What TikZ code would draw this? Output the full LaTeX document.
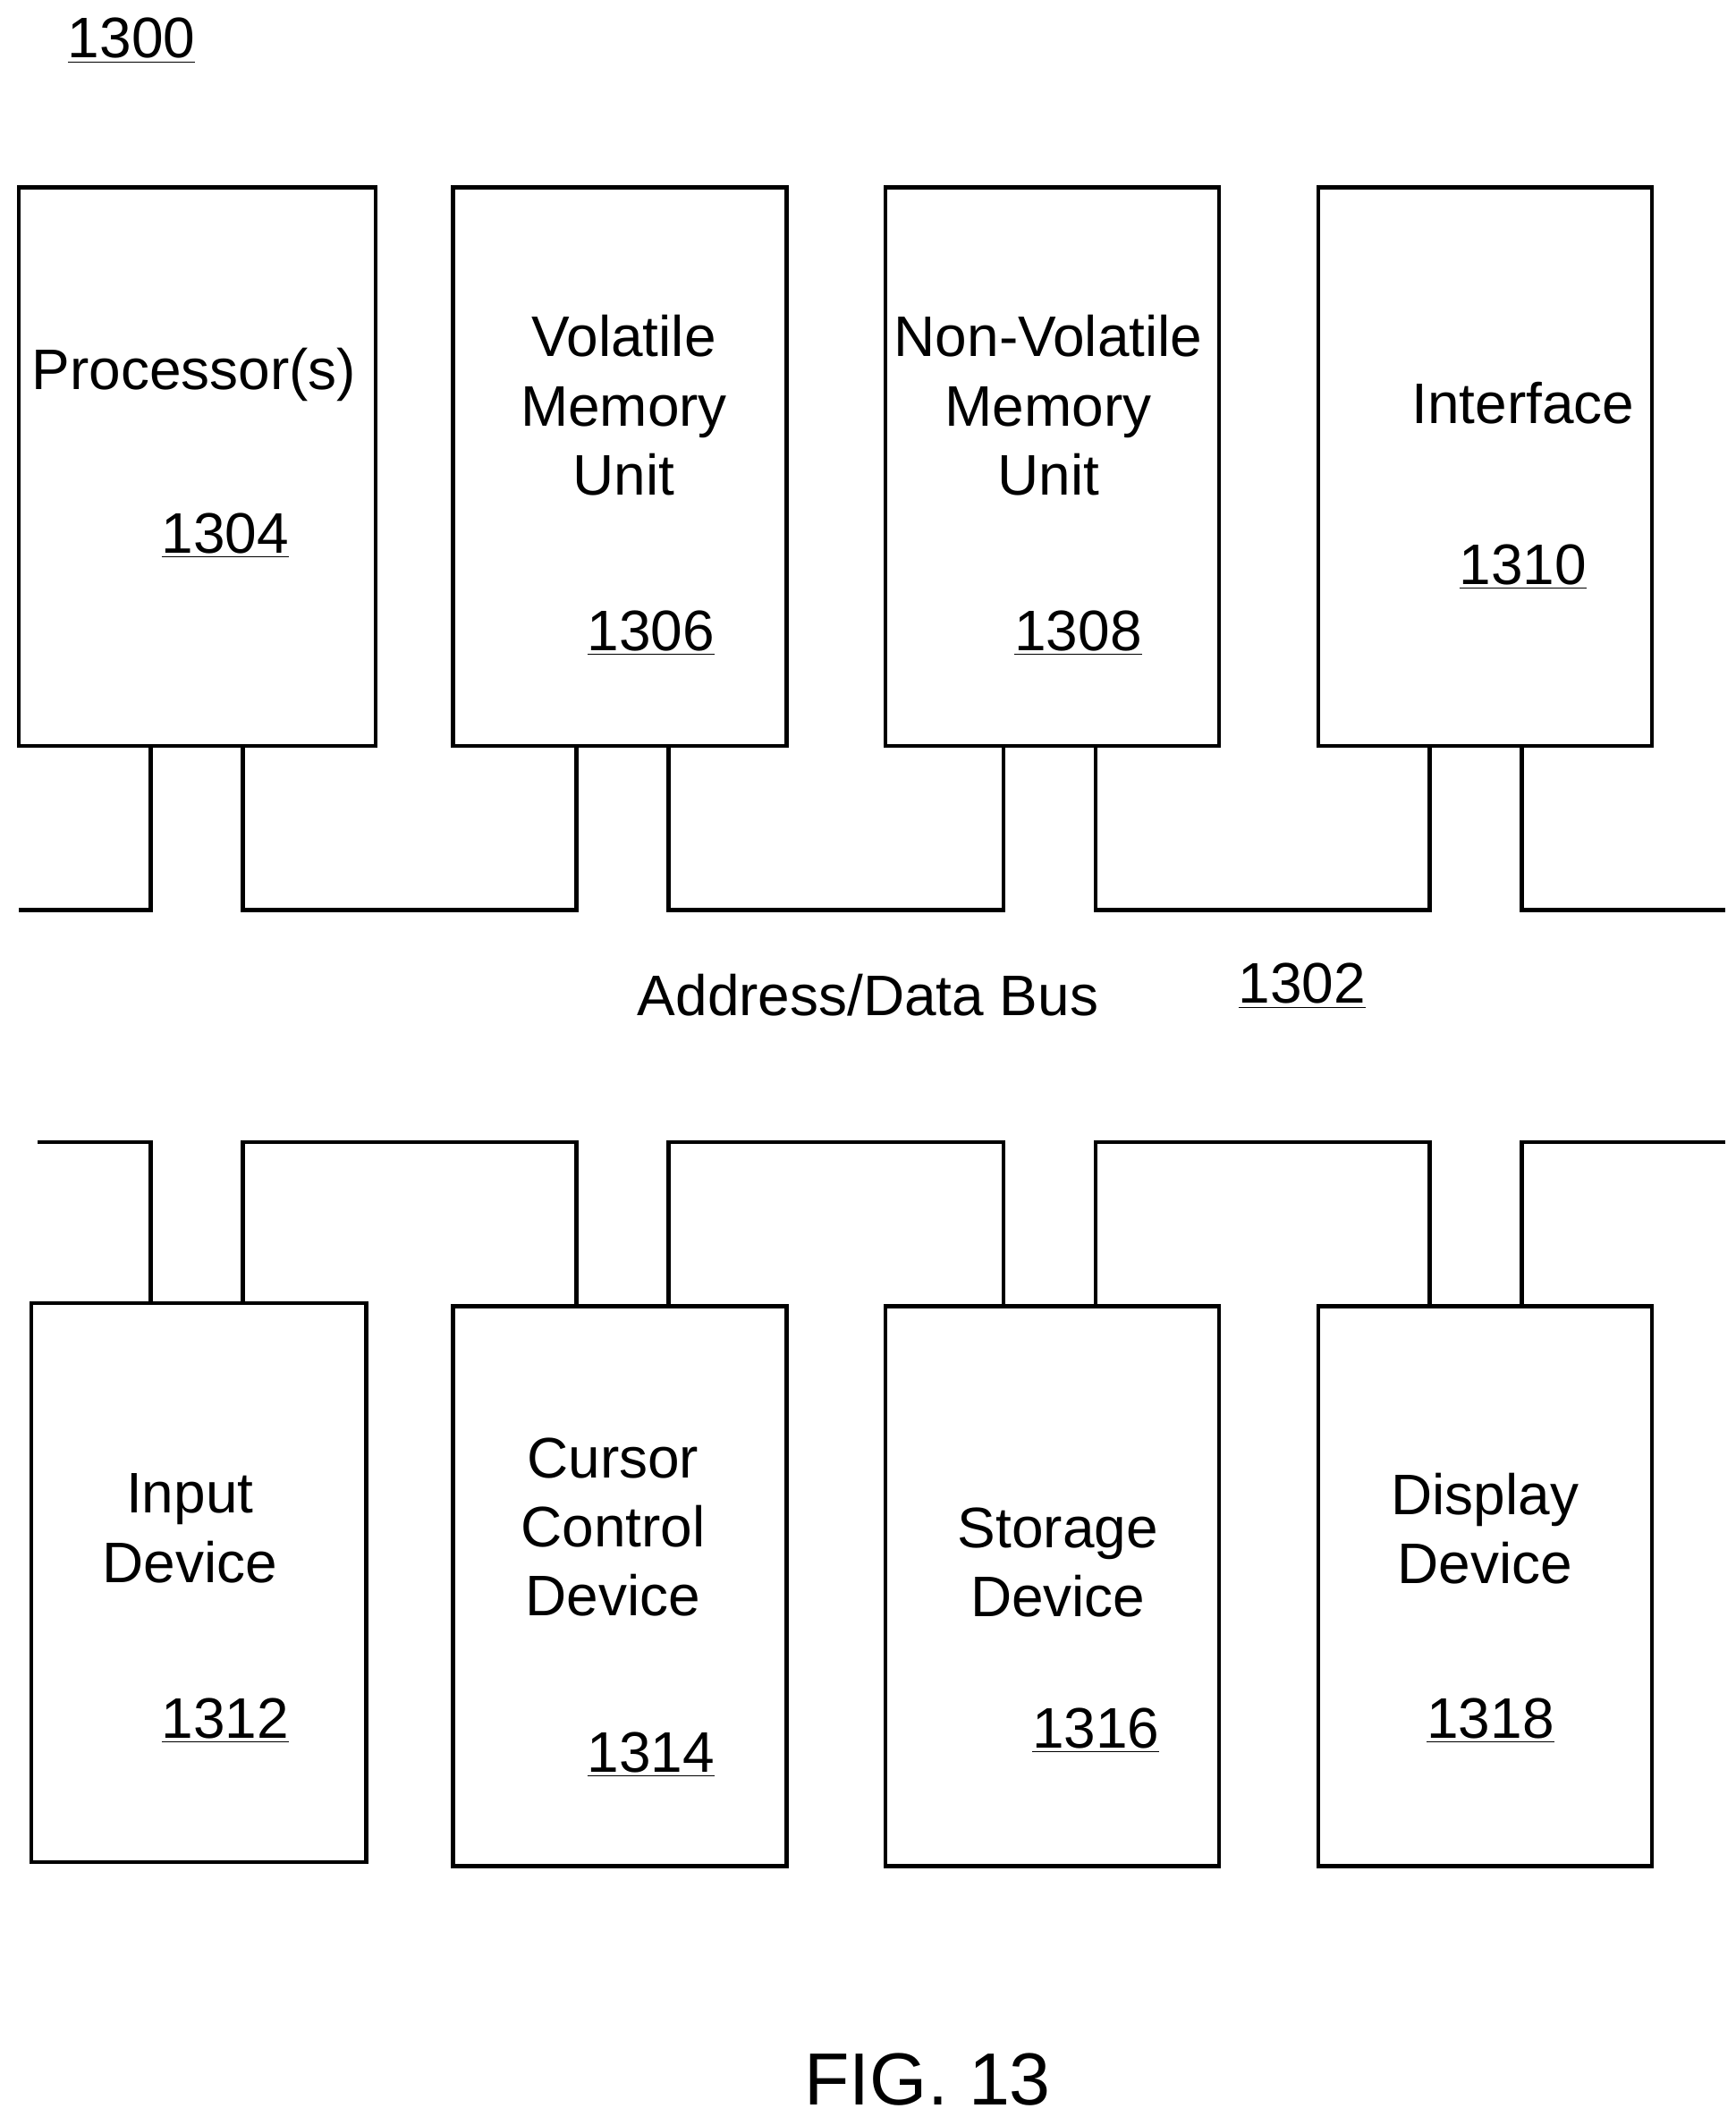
\documentclass[tikz,border=0pt]{standalone}
\usepackage{fontspec}
\setmainfont{Liberation Sans}
\begin{document}
\begin{tikzpicture}[x=0.02cm,y=-0.02cm,line width=1.7pt,
  box/.style={draw,line width=1.7pt,inner sep=0},
  lbl/.style={font=\fontsize{24}{29}\selectfont,align=center,inner sep=0},
  num/.style={font=\fontsize{24}{29}\selectfont,inner sep=0}]
\useasboundingbox (0,0) rectangle (1280,1561);
% boxes
\draw[box] (14,138) rectangle (277,550);
\draw[box] (334,138) rectangle (580,550);
\draw[box] (653,138) rectangle (899,550);
\draw[box] (972,138) rectangle (1218,550);
\draw[box] (23,961) rectangle (270,1373);
\draw[box] (334,963) rectangle (580,1376);
\draw[box] (653,963) rectangle (899,1376);
\draw[box] (972,963) rectangle (1218,1376);
% bus top
\draw (14,671) -- (111,671) -- (111,550);
\draw (179,550) -- (179,671) -- (425,671) -- (425,550);
\draw (493,550) -- (493,671) -- (740,671) -- (740,550);
\draw (808,550) -- (808,671) -- (1054,671) -- (1054,550);
\draw (1122,550) -- (1122,671) -- (1272,671);
% bus bottom
\draw (28,842) -- (111,842) -- (111,961);
\draw (179,961) -- (179,842) -- (425,842) -- (425,963);
\draw (493,963) -- (493,842) -- (740,842) -- (740,963);
\draw (808,963) -- (808,842) -- (1054,842) -- (1054,963);
\draw (1122,963) -- (1122,842) -- (1272,842);
% texts
\node[num] (n1300) at (97,30) {\underline{1300}};
\node[lbl] (t1304) at (143,276) {Processor(s)};
\node[num] (n1304) at (166,395) {\underline{1304}};
\node[lbl] (t1306) at (460,299) {Volatile\\Memory\\Unit};
\node[num] (n1306) at (480,467) {\underline{1306}};
\node[lbl] (t1308) at (773,299) {Non-Volatile\\Memory\\Unit};
\node[num] (n1308) at (795,467) {\underline{1308}};
\node[lbl] (t1310) at (1123,297) {Interface};
\node[num] (n1310) at (1123,418) {\underline{1310}};
\node[lbl] (t1302) at (640,734) {Address/Data Bus};
\node[num] (n1302) at (960,727) {\underline{1302}};
\node[lbl] (t1312) at (140,1127) {Input\\Device};
\node[num] (n1312) at (166,1269) {\underline{1312}};
\node[lbl] (t1314) at (452,1126) {Cursor\\Control\\Device};
\node[num] (n1314) at (480,1294) {\underline{1314}};
\node[lbl] (t1316) at (780,1152) {Storage\\Device};
\node[num] (n1316) at (808,1276) {\underline{1316}};
\node[lbl] (t1318) at (1095,1127) {Display\\Device};
\node[num] (n1318) at (1099,1269) {\underline{1318}};
\node[font=\fontsize{31}{36}\selectfont,inner sep=0] (fig) at (684,1533) {FIG. 13};
\end{tikzpicture}
\end{document}
